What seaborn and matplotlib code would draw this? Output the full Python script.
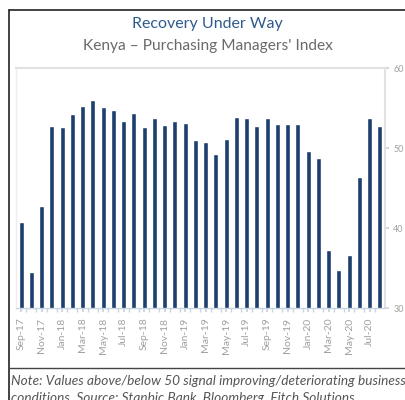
import matplotlib
matplotlib.use("Agg")
import matplotlib.pyplot as plt
import seaborn as sns
import pandas as pd
from matplotlib.lines import Line2D

months = ["Sep-17", "Oct-17", "Nov-17", "Dec-17",
          "Jan-18", "Feb-18", "Mar-18", "Apr-18", "May-18", "Jun-18",
          "Jul-18", "Aug-18", "Sep-18", "Oct-18", "Nov-18", "Dec-18",
          "Jan-19", "Feb-19", "Mar-19", "Apr-19", "May-19", "Jun-19",
          "Jul-19", "Aug-19", "Sep-19", "Oct-19", "Nov-19", "Dec-19",
          "Jan-20", "Feb-20", "Mar-20", "Apr-20", "May-20", "Jun-20",
          "Jul-20", "Aug-20"]
pmi = [40.8, 34.5, 42.7, 52.8,
       52.6, 54.3, 55.3, 56.0, 55.1, 54.8,
       53.4, 54.4, 52.6, 53.7, 52.9, 53.4,
       53.1, 51.0, 50.8, 49.2, 51.1, 53.9,
       53.8, 52.7, 53.8, 53.0, 53.0, 53.0,
       49.6, 48.7, 37.3, 34.7, 36.6, 46.4,
       53.8, 52.8]
yticks = [30, 40, 50, 60]

df = pd.DataFrame({"month": months, "pmi": pmi})

sns.set_theme(style="white")
plt.rcParams["font.family"] = ["Lato", "DejaVu Sans"]

W, H = 406, 400
fig = plt.figure(figsize=(W / 100, H / 100), dpi=100)

ax = fig.add_axes([16 / W, 1 - 308 / H, (385 - 16) / W, (308 - 68) / H])
sns.barplot(data=df, x="month", y="pmi", color="#1c3f6e", width=0.48,
            saturation=1, ax=ax)
ax.set_ylim(30, 60)
ax.set_xlim(-0.5, len(months) - 0.5)
ax.set_xlabel("")
ax.set_ylabel("")
ax.yaxis.tick_right()
ax.set_yticks(yticks)
ax.set_yticklabels([str(v) for v in yticks], fontsize=6.5, color="#a0a0a0")
ax.tick_params(axis="y", length=3, color="#c8d4e0", pad=3, right=True, left=False)
ax.set_xticks(range(0, len(months), 2))
ax.set_xticklabels(months[::2], rotation=90, fontsize=7.5, color="#a0a0a0")
ax.set_xticks([i + 0.5 for i in range(len(months) - 1)], minor=True)
ax.tick_params(axis="x", which="both", length=3, color="#c8d4e0", pad=4, bottom=True)
for s in ["top", "right"]:
    ax.spines[s].set_color("#e2e2e2")
    ax.spines[s].set_linewidth(1.5)
ax.spines["left"].set_color("#eeeeee")
ax.spines["left"].set_linewidth(1)
ax.spines["bottom"].set_color("#c8d4e0")
ax.spines["bottom"].set_linewidth(1)

fig.text(207 / W, 1 - 24 / H, "Recovery Under Way", ha="center", va="center",
         fontsize=11.5, color="#2f5a8c")
fig.text(208 / W, 1 - 46 / H, "Kenya \u2013 Purchasing Managers' Index", ha="center",
         va="center", fontsize=11.2, color="#6a6a6a")

# outer frame
fig.add_artist(Line2D([9 / W, 9 / W], [0, 1 - 10 / H], color="#222222", lw=1.2,
                      transform=fig.transFigure))
fig.add_artist(Line2D([9 / W, 1], [1 - 10 / H, 1 - 10 / H], color="#222222", lw=1.2,
                      transform=fig.transFigure))
fig.add_artist(Line2D([9 / W, 1], [1 - 368 / H, 1 - 368 / H], color="#444444", lw=1.0,
                      transform=fig.transFigure))

fig.text(11 / W, 1 - 381 / H,
         "Note: Values above/below 50 signal improving/deteriorating business",
         ha="left", va="center", fontsize=9.8, style="italic", color="#555555")
fig.text(11 / W, 1 - 398 / H,
         "conditions. Source: Stanbic Bank, Bloomberg, Fitch Solutions",
         ha="left", va="center", fontsize=9.8, style="italic", color="#555555")

fig.savefig("out.png", dpi=100)
